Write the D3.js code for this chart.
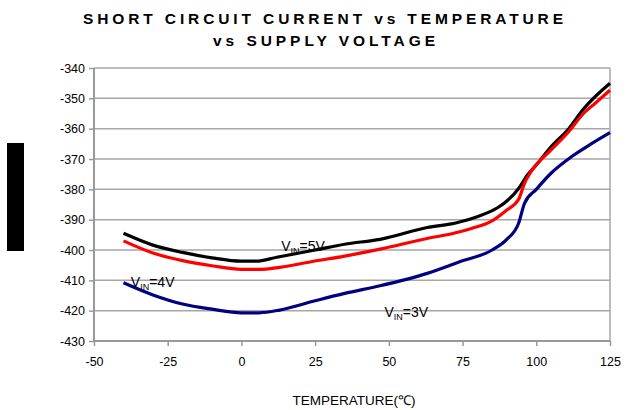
<!DOCTYPE html>
<html><head><meta charset="utf-8">
<script src="https://cdn.jsdelivr.net/npm/d3@7"></script>
<style>body{margin:0;background:#fff;}svg{display:block;font-family:"Liberation Sans",Arial,sans-serif;}</style>
</head><body><svg id="c" width="632" height="410"></svg>
<script>
const titleLines = ["SHORT CIRCUIT CURRENT vs TEMPERATURE", "vs SUPPLY VOLTAGE"];
const xLabel = "TEMPERATURE(℃)";
const xTicks = [-50, -25, 0, 25, 50, 75, 100, 125];
const yTicks = [-340, -350, -360, -370, -380, -390, -400, -410, -420, -430];

const temp5V = [-40,-30,-20,-10,0,5,12,25,35,47,63,73,80,87,91,94,97,100,105,111,116,125];
const val5V  = [-394.5,-398.4,-400.8,-402.6,-403.7,-403.7,-402.4,-400,-398.1,-396.5,-392.6,-391,-389,-386,-383,-379.7,-375.3,-372,-366,-360,-353.5,-345];
const temp4V = [-40,-30,-20,-10,0,6,13,24,35,47,63,72,78,85,90,94,96,98,105,111,116,120,125];
const val4V  = [-397,-401,-403.5,-405.2,-406.4,-406.4,-405.7,-403.8,-402,-399.7,-396.2,-394.5,-392.9,-390.4,-386.8,-383.3,-378,-374.5,-367,-361,-355,-351.6,-347.3];
const temp3V = [-40,-30,-20,-10,0,6,13,24,35,47,63,74,85,90,94,96,100,105,112,119,125];
const val3V  = [-410.8,-414.8,-417.8,-419.5,-420.7,-420.7,-419.8,-417,-414.3,-411.8,-407.7,-403.9,-400,-396.5,-391.2,-384.6,-380,-374.7,-369.2,-364.8,-361.3];

const seriesNames = ["5V","4V","3V"];
const seriesColors = ["#000000","#ff0000","#000080"];
const labels = [
  {v:"5", x:13.5, y:-400.2},
  {v:"4", x:-37.5, y:-412.2},
  {v:"3", x:48.5, y:-422.2}
];

const svg = d3.select("#c");
const L = 94, R = 610, T = 68, B = 341;
const x = d3.scaleLinear().domain([-50,125]).range([L,R]);
const y = d3.scaleLinear().domain([-430,-340]).range([B,T]);

// title
const titlePos = [{x:83, w:480, y:23.5}, {x:213, w:222, y:46}];
titleLines.forEach((t,i)=>{
  svg.append("text").attr("x",titlePos[i].x).attr("y",titlePos[i].y)
    .attr("textLength",titlePos[i].w).attr("lengthAdjust","spacing")
    .attr("font-size",15.5).attr("font-weight","bold")
    .attr("fill","#000").text(t);
});

// y-axis label block (rendered as black block in reference)
svg.append("rect").attr("x",7).attr("y",143).attr("width",17).attr("height",108).attr("fill","#000");

// gridlines
svg.append("g").selectAll("line").data(yTicks).join("line")
  .attr("x1",L).attr("x2",R).attr("y1",d=>y(d)).attr("y2",d=>y(d))
  .attr("stroke","#a6a6a6").attr("stroke-width",1.5);
// border right
svg.append("line").attr("x1",R).attr("x2",R).attr("y1",T).attr("y2",B).attr("stroke","#a6a6a6").attr("stroke-width",1.5);

// axes
const fmt = d => String(d);
const yAxis = d3.axisLeft(y).tickValues(yTicks).tickSize(5).tickPadding(4).tickFormat(fmt);
const gy = svg.append("g").attr("transform",`translate(${L},0)`).call(yAxis);
const xAxis = d3.axisBottom(x).tickValues(xTicks).tickSize(5).tickPadding(11).tickFormat(fmt);
const gx = svg.append("g").attr("transform",`translate(0,${B})`).call(xAxis);
[gx,gy].forEach(g=>{
  g.select(".domain").attr("stroke","#999").attr("stroke-width",2);
  g.selectAll(".tick line").attr("stroke","#999").attr("stroke-width",1.5);
  g.selectAll("text").attr("font-size",12.5).attr("fill","#000").attr("font-family","Liberation Sans, Arial, sans-serif");
});
gx.select(".domain").attr("d",`M${L},0H${R}`);
gy.select(".domain").attr("d",`M0,${T}V${B}`);

// lines
const temps = [temp5V,temp4V,temp3V], vals = [val5V,val4V,val3V];
const line = d3.line().x(d=>x(d[0])).y(d=>y(d[1])).curve(d3.curveMonotoneX);
temps.forEach((tt,i)=>{
  svg.append("path").datum(tt.map((t,j)=>[t,vals[i][j]]))
    .attr("d",line).attr("fill","none").attr("stroke",seriesColors[i])
    .attr("stroke-width",3.2).attr("stroke-linejoin","round");
});

// curve labels
labels.forEach(l=>{
  const t = svg.append("text").attr("x",x(l.x)).attr("y",y(l.y)).attr("font-size",14).attr("fill","#000");
  t.append("tspan").text("V");
  t.append("tspan").attr("font-size",9).attr("dy",3).text("IN");
  t.append("tspan").attr("dy",-3).text("="+l.v+"V");
});

// x label
svg.append("text").attr("x",354).attr("y",405).attr("text-anchor","middle")
  .attr("font-size",13.5).attr("fill","#000").text(xLabel);
</script></body></html>
